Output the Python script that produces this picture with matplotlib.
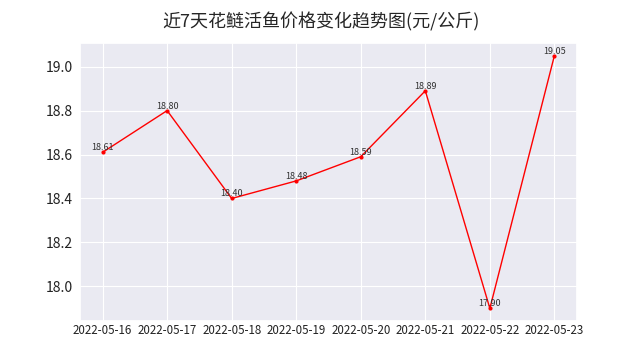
import matplotlib
matplotlib.use("Agg")
import matplotlib.pyplot as plt
import seaborn as sns

sns.set_theme(style="darkgrid")
plt.rcParams['font.family'] = ['Noto Sans CJK SC', 'DejaVu Sans']
plt.rcParams['axes.unicode_minus'] = False
plt.rcParams['grid.linewidth'] = 0.8

dates = ["2022-05-16", "2022-05-17", "2022-05-18", "2022-05-19",
         "2022-05-20", "2022-05-21", "2022-05-22", "2022-05-23"]
prices = [18.61, 18.80, 18.40, 18.48, 18.59, 18.89, 17.90, 19.05]
title = "近7天花鲢活鱼价格变化趋势图(元/公斤)"

fig = plt.figure(figsize=(6.41, 3.61), dpi=100)
ax = fig.add_axes([80/641, 40/361, 497/641, 278/361])
x = list(range(len(dates)))
ax.plot(x, prices, color="red", linewidth=1, marker="o", markersize=2)
for xi, yi in zip(x, prices):
    ax.text(xi, yi, f"{yi:.2f}", ha="center", va="bottom", fontsize=6.5, color="#333333")
ax.set_xticks(x)
ax.set_xticklabels(dates, fontsize=8.3, color="#222222")
ax.set_yticks([18.0, 18.2, 18.4, 18.6, 18.8, 19.0])
ax.set_yticklabels(["18.0", "18.2", "18.4", "18.6", "18.8", "19.0"], fontsize=10, color="#222222")
ax.tick_params(axis="x", length=0, pad=2)
ax.tick_params(axis="y", length=0, pad=5)
fig.suptitle(title, fontsize=13, y=0.965)
fig.savefig("out.png", dpi=100)
